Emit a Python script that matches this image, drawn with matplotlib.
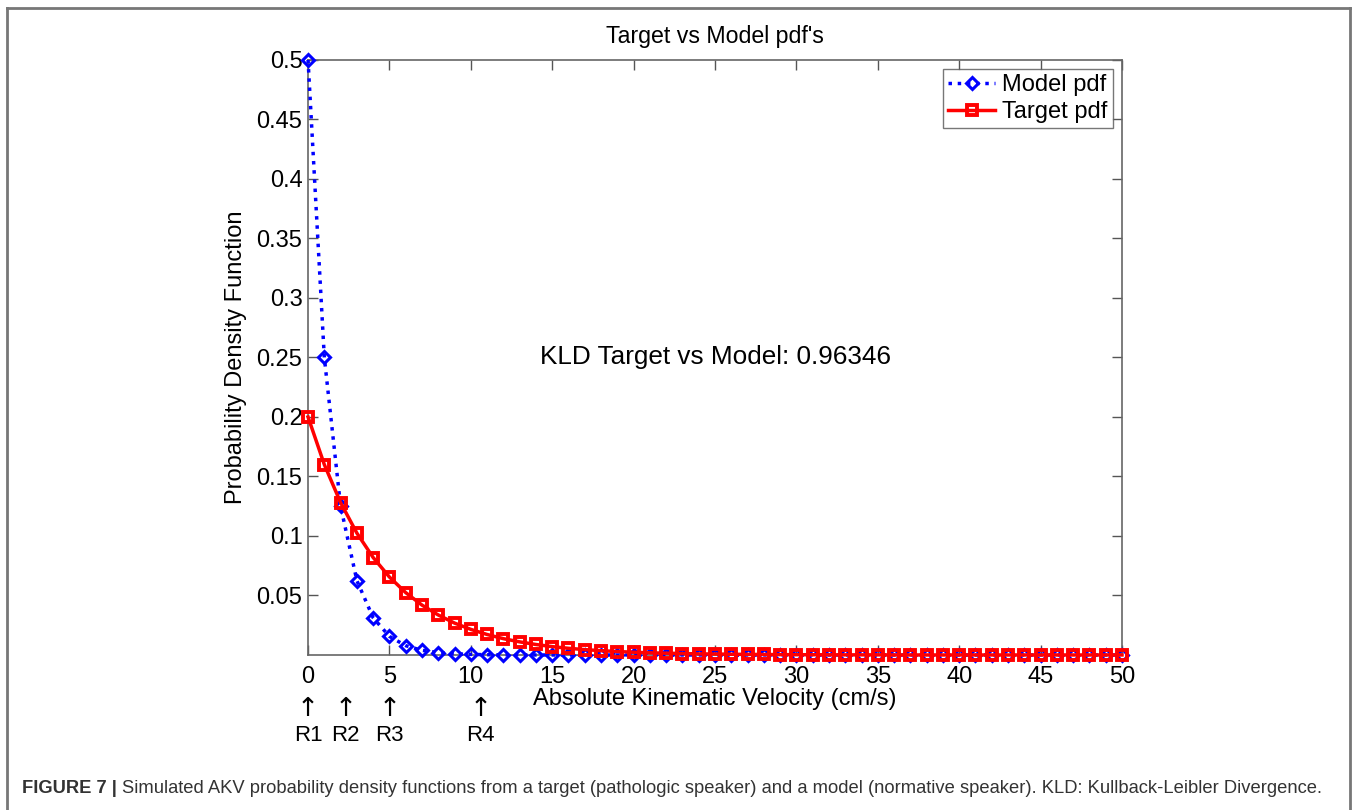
import matplotlib
matplotlib.use("Agg")
import matplotlib.pyplot as plt
from matplotlib.lines import Line2D

plt.rcParams['font.family'] = ['Liberation Sans', 'DejaVu Sans']

# velocity bins (cm/s)
velocity = list(range(0, 51))

model_pdf = [0.5, 0.25, 0.125, 0.0625, 0.03125, 0.0156, 0.0078, 0.0039, 0.002, 0.001,
             0.0005, 0.0002, 0.0001, 0.0001, 0.0, 0.0, 0.0, 0.0, 0.0, 0.0,
             0.0, 0.0, 0.0, 0.0, 0.0, 0.0, 0.0, 0.0, 0.0, 0.0,
             0.0, 0.0, 0.0, 0.0, 0.0, 0.0, 0.0, 0.0, 0.0, 0.0,
             0.0, 0.0, 0.0, 0.0, 0.0, 0.0, 0.0, 0.0, 0.0, 0.0, 0.0]

target_pdf = [0.2, 0.16, 0.128, 0.1024, 0.0819, 0.0655, 0.0524, 0.0419, 0.0336, 0.0268,
              0.0215, 0.0172, 0.0137, 0.011, 0.0088, 0.007, 0.0056, 0.0045, 0.0036, 0.0029,
              0.0023, 0.0018, 0.0015, 0.0012, 0.0009, 0.0008, 0.0006, 0.0005, 0.0004, 0.0003,
              0.0002, 0.0002, 0.0001, 0.0001, 0.0001, 0.0001, 0.0, 0.0, 0.0, 0.0,
              0.0, 0.0, 0.0, 0.0, 0.0, 0.0, 0.0, 0.0, 0.0, 0.0, 0.0]

# region markers under the x axis
region_pos = [0, 2.3, 5, 10.6]
region_names = ['R1', 'R2', 'R3', 'R4']

kld_text = 'KLD Target vs Model: 0.96346'

fig = plt.figure(figsize=(13.57, 8.10), dpi=100)
ax = fig.add_axes([0.227, 0.1914, 0.5998, 0.7346])

ax.plot(velocity, model_pdf, color='blue', linestyle=':', linewidth=2.5,
        marker='D', markersize=6.5, markerfacecolor='none', markeredgewidth=2.2,
        label='Model pdf', clip_on=False, zorder=3)
ax.plot(velocity, target_pdf, color='red', linestyle='-', linewidth=2.5,
        marker='s', markersize=7, markerfacecolor='none', markeredgewidth=2.8,
        label='Target pdf', clip_on=False, zorder=4)

ax.set_xlim(0, 50)
ax.set_ylim(0, 0.5)
ax.set_xticks(range(0, 51, 5))
ax.set_yticks([0.05, 0.1, 0.15, 0.2, 0.25, 0.3, 0.35, 0.4, 0.45, 0.5])
ax.set_yticklabels(['0.05', '0.1', '0.15', '0.2', '0.25', '0.3', '0.35', '0.4', '0.45', '0.5'])
ax.tick_params(direction='in', top=True, right=True, length=7, width=1,
               color='#555555', labelsize=17)
ax.tick_params(axis='y', pad=4)
ax.tick_params(axis='x', pad=8)
for s in ax.spines.values():
    s.set_color('#666666')
    s.set_linewidth(1.2)

ax.set_title("Target vs Model pdf's", fontsize=16.7, pad=12)
ax.set_xlabel('Absolute Kinematic Velocity (cm/s)', fontsize=17, labelpad=0)
ax.set_ylabel('Probability Density Function', fontsize=17, labelpad=7)

ax.text(25, 0.25, kld_text, fontsize=18.8, ha='center', va='center')

leg = ax.legend(loc='upper right', fontsize=17, frameon=True, fancybox=False,
                borderpad=0.2, handlelength=2.0, handletextpad=0.3,
                labelspacing=0.2, borderaxespad=0.4)
leg.get_frame().set_edgecolor('#555555')
leg.get_frame().set_linewidth(1)

trans = ax.get_xaxis_transform()
for xp, name in zip(region_pos, region_names):
    ax.text(xp, -0.09, '\u2191', transform=trans, ha='center', va='center',
            fontsize=19, family='DejaVu Sans')
    ax.text(xp, -0.135, name, transform=trans, ha='center', va='center', fontsize=16)

# outer figure frame (open at bottom)
frame_kw = dict(color='#777777', linewidth=2, transform=fig.transFigure)
fig.add_artist(Line2D([0.0055, 0.0055], [0.0, 0.990], **frame_kw))
fig.add_artist(Line2D([0.0055, 0.9945], [0.990, 0.990], **frame_kw))
fig.add_artist(Line2D([0.9945, 0.9945], [0.0, 0.990], **frame_kw))

# caption
cap1 = fig.text(0.0162, 0.021, 'FIGURE 7 | ', fontsize=13.2, fontweight='bold',
                color='#333333')
fig.canvas.draw()
bb = cap1.get_window_extent()
fig.text(bb.x1 / fig.bbox.width, 0.021,
         'Simulated AKV probability density functions from a target (pathologic speaker) '
         'and a model (normative speaker). KLD: Kullback-Leibler Divergence.',
         fontsize=13.2, color='#333333')

fig.savefig('out.png', dpi=100)
